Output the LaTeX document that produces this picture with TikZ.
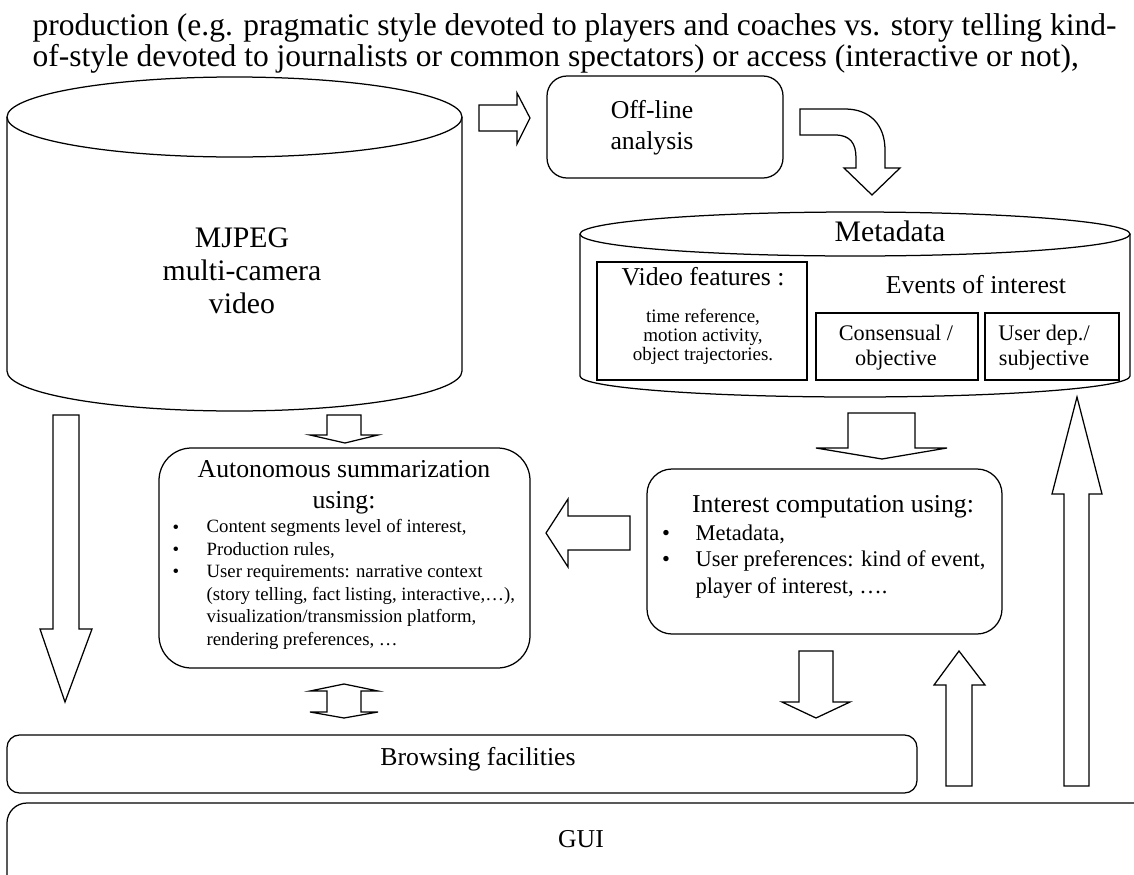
\documentclass[tikz,border=0pt]{standalone}
\usepackage{fontspec}
\setmainfont{Liberation Serif}

\begin{document}
\begin{tikzpicture}[x=0.4pt, y=-0.4pt, line width=0.5pt,
  roundbox/.style={draw, rounded corners=#1, inner sep=0pt, outer sep=0pt},
  plainbox/.style={draw, inner sep=0pt, outer sep=0pt},
  blockarrow/.style={draw, fill=white, line join=miter},
  txt/.style={inner sep=0pt, anchor=base, align=center},
  paratxt/.style={inner sep=0pt, anchor=base west, font=\fontsize{12.6}{14}\selectfont},
  bigtxt/.style={txt, font=\fontsize{11.9}{13.2}\selectfont},
  midtxt/.style={txt, font=\fontsize{10.3}{12.3}\selectfont},
  celltxt/.style={txt, font=\fontsize{8.9}{10}\selectfont},
  feattxt/.style={txt, font=\fontsize{7.6}{7.6}\selectfont},
  listtxt/.style={inner sep=0pt, anchor=base west, align=left, font=\fontsize{7.5}{9}\selectfont},
  itemtxt/.style={inner sep=0pt, anchor=base west, align=left, font=\fontsize{9}{10.6}\selectfont}]

  \useasboundingbox (0,0) rectangle (1134,874);
  \clip (0,0) rectangle (1134,874);

%% =============== Text running above the figure ===============
  \node[paratxt] (para1) at (32,35)
    {production (e.g. pragmatic style devoted to players and coaches vs. story telling kind-};
  \node[paratxt] (para2) at (32,66)
    {of-style devoted to journalists or common spectators) or access (interactive or not),};

%% =============== Video store and off-line analysis ===============

  % --- MJPEG cylinder ---
  \draw (7,117) -- (7,371)
        arc[start angle=180, end angle=360, x radius=91pt, y radius=16pt] -- (462,117);
  \draw (234.5,117) ellipse [x radius=91pt, y radius=16pt];
  % (base of a multi-line node = baseline of its last line)
  \node[bigtxt] (mjpeg) at (242,313) {MJPEG\\multi-camera\\video};

  % --- Arrow into the analysis box ---
  \draw[blockarrow] (479,105) -- (517,105) -- (517,93) -- (530,118)
        -- (517,144) -- (517,131) -- (479,131) -- cycle;

  % --- Off-line analysis ---
  \node[roundbox=8pt, minimum width=94.4pt, minimum height=40.8pt] (offline) at (665,127) {};
  \node[midtxt] (offlinetxt) at (652,149) {Off-line\\analysis};

  % --- Bent arrow down to the metadata ---
  \draw[blockarrow] (800,109) -- (845,109) .. controls (870,109) and (885,125) .. (885,150)
        -- (885,168) -- (900,168) -- (872,195) -- (844,168) -- (856,168) -- (856,158)
        .. controls (856,143) and (850,135) .. (835,135) -- (800,135) -- cycle;

%% =============== Metadata store ===============

  % --- Metadata cylinder ---
  \draw (580,234) -- (580,376)
        arc[start angle=180, end angle=360, x radius=110pt, y radius=8.4pt] -- (1130,234);
  \draw (855,234) ellipse [x radius=110pt, y radius=8.8pt];
  \node[bigtxt] (metatxt) at (890,241) {Metadata};

  % --- Video features ---
  \node[plainbox, minimum width=84pt, minimum height=47.2pt] (vidfeat) at (702,321) {};
  \node[midtxt] (vidfeattxt) at (703,285) {Video features :};
  \node[feattxt] (featlist) at (703,360)
    {time reference,\\motion activity,\\object trajectories.};

  % --- Events of interest ---
  \node[midtxt] (eventstxt) at (976,293) {Events of interest};
  \node[plainbox, minimum width=64.8pt, minimum height=26.8pt] (consens) at (897,346.5) {};
  \node[celltxt] (consenstxt) at (896,365) {Consensual /\\objective};
  \node[plainbox, minimum width=53.6pt, minimum height=26.8pt] (userdep) at (1052,346.5) {};
  \node[celltxt] (userdeptxt) at (1044,365) {User dep./\\subjective};

%% =============== Processing ===============

  % --- Arrows out of the two stores ---
  \draw[blockarrow] (327,415) -- (361,415) -- (361,435) -- (378,435) -- (345,443)
        -- (310,435) -- (327,435) -- cycle;
  \draw[blockarrow] (848,413) -- (915,413) -- (915,448) -- (947,448) -- (882,459)
        -- (816,448) -- (848,448) -- cycle;

  % --- Autonomous summarization ---
  \node[roundbox=13pt, minimum width=148.4pt, minimum height=88pt] (auto) at (344.5,558) {};
  \node[midtxt] (autotitle) at (344,508) {Autonomous summarization\\using:};
  \node[listtxt] (autolist) at (206,645)
    {Content segments level of interest,\\Production rules,\\User requirements: narrative context\\
     (story telling, fact listing, interactive,…),\\visualization/transmission platform,\\
     rendering preferences, …};
  \foreach \y [count=\i] in {533,555.4,577.8}
    \node[listtxt, anchor=base] (autob\i) at (176,\y) {•};

  % --- Interest computation ---
  \node[roundbox=10pt, minimum width=142pt, minimum height=66pt] (interest) at (824.5,551.5) {};
  \node[midtxt] (interesttitle) at (833,512) {Interest computation using:};
  \node[itemtxt] (interestlist) at (695,593)
    {Metadata,\\User preferences: kind of event,\\player of interest, ….};
  \foreach \y [count=\i] in {540,566.5}
    \node[itemtxt, anchor=base] (interestb\i) at (666,\y) {•};

  % --- Arrow from interest to summarization ---
  \draw[blockarrow] (630,516) -- (568,516) -- (568,499) -- (546,533) -- (568,567)
        -- (568,550) -- (630,550) -- cycle;

%% =============== Browsing and GUI ===============

  % --- Long arrow from the video store ---
  \draw[blockarrow] (53,415) -- (79,415) -- (79,629) -- (92,629) -- (65,702)
        -- (40,629) -- (53,629) -- cycle;

  % --- Two-way arrow under the summarization ---
  \draw[blockarrow] (344,684) -- (378,691) -- (361,691) -- (361,712) -- (378,712)
        -- (344,718) -- (310,712) -- (327,712) -- (327,691) -- (310,691) -- cycle;

  % --- Arrows between interest, browsing and metadata ---
  \draw[blockarrow] (799,651) -- (833,651) -- (833,702) -- (850,702) -- (816,718)
        -- (782,702) -- (799,702) -- cycle;
  \draw[blockarrow] (946,786) -- (946,685) -- (934,685) -- (959,651) -- (985,685)
        -- (972,685) -- (972,786) -- cycle;
  \draw[blockarrow] (1064,786) -- (1064,494) -- (1052,494) -- (1077,397) -- (1102,494)
        -- (1089,494) -- (1089,786) -- cycle;

  % --- Browsing facilities ---
  \node[roundbox=5pt, minimum width=364pt, minimum height=23.2pt] (browse) at (462,764) {};
  \node[midtxt] (browsetxt) at (478,765) {Browsing facilities};

  % --- GUI ---
  \node[roundbox=8pt, minimum width=477.2pt, minimum height=58.8pt] (gui) at (603.5,876.5) {};
  \node[midtxt] (guitxt) at (581,847) {GUI};

\end{tikzpicture}
\end{document}
